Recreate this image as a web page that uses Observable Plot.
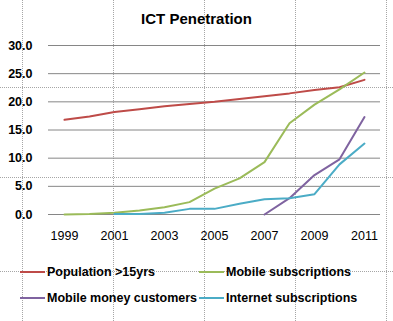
<!DOCTYPE html>
<html><head><meta charset="utf-8">
<script src="https://cdn.jsdelivr.net/npm/d3@7"></script>
<script src="https://cdn.jsdelivr.net/npm/@observablehq/plot@0.6"></script>
<style>
body{margin:0;background:#fff;font-family:"Liberation Sans",Arial,sans-serif;}
#wrap{position:relative;width:393px;height:321px;overflow:hidden;}
#title{position:absolute;left:0;top:0;width:393px;height:35px;text-align:center;font-weight:bold;font-size:15px;line-height:37px;color:#000;}
#chart{position:absolute;left:0;top:35px;}
#legend{position:absolute;left:0;top:250px;width:393px;height:71px;font-weight:bold;font-size:12.5px;color:#000;}
.li{position:absolute;display:flex;align-items:center;height:16px;}
.sw{width:25px;height:2px;margin-right:2px;}
.vd{position:absolute;top:0;height:321px;width:0;border-left:1px dotted rgba(0,0,0,0.35);}
.hd{position:absolute;left:0;width:393px;height:0;border-top:1px dotted rgba(0,0,0,0.35);}
</style></head>
<body><div id="wrap">
<div class="vd" style="left:22px"></div><div class="vd" style="left:113px"></div><div class="vd" style="left:204px"></div><div class="vd" style="left:295px"></div><div class="vd" style="left:386px"></div>
<div class="hd" style="top:87px"></div><div class="hd" style="top:177px"></div><div class="hd" style="top:271px"></div>
<div id="title">ICT Penetration</div>
<div id="chart"></div>
<div id="legend"></div>
</div>
<script>
const years = [1999,2000,2001,2002,2003,2004,2005,2006,2007,2008,2009,2010,2011];
const tickYears = [1999,2001,2003,2005,2007,2009,2011];
const yTicks = [0,5,10,15,20,25,30];
const seriesNames = ["Population >15yrs","Mobile subscriptions","Mobile money customers","Internet subscriptions"];
const seriesColors = ["#BE4B48","#9BBB59","#7F63A0","#4BACC6"];
const population = [16.8,17.4,18.2,18.7,19.2,19.6,20.0,20.5,21.0,21.5,22.1,22.6,23.9];
const mobileSubs = [0.0,0.1,0.3,0.7,1.3,2.2,4.6,6.4,9.3,16.2,19.5,22.2,25.2];
const mobileMoney = [null,null,null,null,null,null,null,null,0.0,2.9,7.0,9.8,17.3];
const internetSubs = [null,null,0.1,0.1,0.3,1.0,1.0,1.9,2.7,2.9,3.6,8.9,12.6];

const seriesValues = [population, mobileSubs, mobileMoney, internetSubs];
const rows = [];
seriesValues.forEach((vals, si) => vals.forEach((v, i) => {
  if (v != null) rows.push({series: seriesNames[si], year: years[i], value: v});
}));

const plot = Plot.plot({
  width: 393, height: 215,
  marginTop: 10, marginBottom: 36, marginLeft: 48, marginRight: 13,
  style: {fontFamily: '"Liberation Sans", Arial, sans-serif', background: "transparent", overflow: "visible"},
  x: {type: "point", domain: years, padding: 0.5, label: null},
  y: {domain: [0, 30], label: null},
  color: {domain: seriesNames, range: seriesColors},
  marks: [
    Plot.ruleY(yTicks, {stroke: "#868686", strokeWidth: 1}),
    Plot.axisY(yTicks, {tickSize: 0, tickPadding: 16, tickFormat: d3.format(".1f"), fontSize: 12.5, fontWeight: "bold", fill: "#000", label: null}),
    Plot.axisX(tickYears, {tickSize: 0, tickPadding: 17, tickFormat: d => String(d), fontSize: 12.5, fill: "#000", label: null}),
    Plot.line(rows, {x: "year", y: "value", z: "series", stroke: "series", strokeWidth: 2, curve: "linear"})
  ]
});
document.getElementById("chart").appendChild(plot);

const legendPos = [[20,14],[199,14],[20,40],[199,40]];
const lg = document.getElementById("legend");
seriesNames.forEach((n, i) => {
  const d = document.createElement("div");
  d.className = "li";
  d.style.left = legendPos[i][0] + "px";
  d.style.top = legendPos[i][1] + "px";
  d.innerHTML = `<span class="sw" style="background:${seriesColors[i]}"></span><span>${n}</span>`;
  lg.appendChild(d);
});
</script>
</body></html>
